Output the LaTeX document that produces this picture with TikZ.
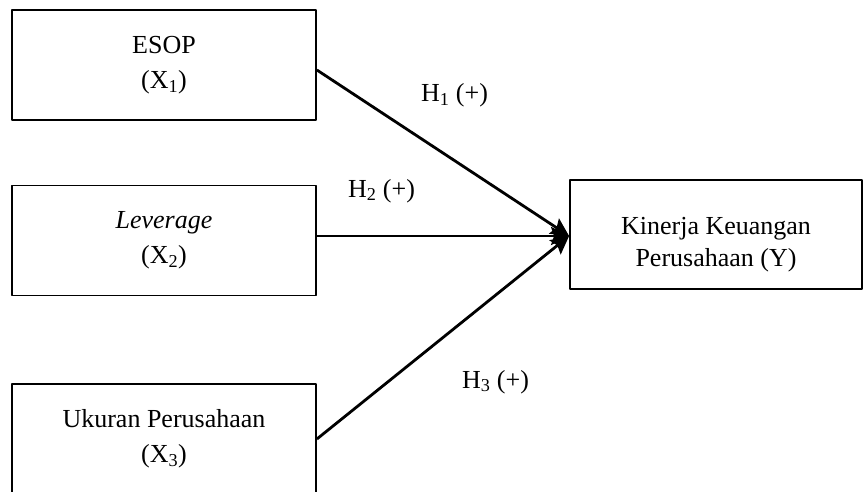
\documentclass[tikz,border=0pt]{standalone}
\usepackage{fontspec}
\setmainfont{Liberation Serif}
\usetikzlibrary{arrows.meta}
\begin{document}
\begin{tikzpicture}[x=1pt,y=-1pt,line join=round,
 font=\fontsize{26}{35}\selectfont,
 box/.style={draw,line width=1.8pt,minimum width=304pt,minimum height=110pt,align=center,inner sep=0pt},
 hyparrow/.style={-{Stealth[length=18pt,width=18pt,inset=3pt]},line width=2.8pt}]
 \useasboundingbox (0,0) rectangle (863,492);
 % variabel bebas
 \node[box] (esop) at (164,65) {ESOP\\(X\textsubscript{1})};
 \node[box] (leverage) at (164,240.5) {\textit{Leverage}\\(X\textsubscript{2})};
 \node[box] (ukuran) at (164,439) {Ukuran Perusahaan\\(X\textsubscript{3})};
 % variabel terikat
 \node[box,minimum width=292pt,minimum height=109pt] (kinerja) at (716,234.5)
 {\rule{0pt}{38pt}Kinerja Keuangan\\[-3pt]Perusahaan (Y)};
 \coordinate (tip) at ([yshift=-1.5pt]kinerja.west);
 % hipotesis
 \draw[hyparrow] ([yshift=-5pt]esop.east)--(tip);
 \draw[hyparrow] (leverage.east |- tip)--(tip);
 \draw[hyparrow] (ukuran.east)--(tip);
 \node[anchor=base] (h1) at (454.5,102) {H\textsubscript{1} (+)};
 \node[anchor=base] (h2) at (381.5,197) {H\textsubscript{2} (+)};
 \node[anchor=base] (h3) at (495.5,388) {H\textsubscript{3} (+)};
\end{tikzpicture}
\end{document}
